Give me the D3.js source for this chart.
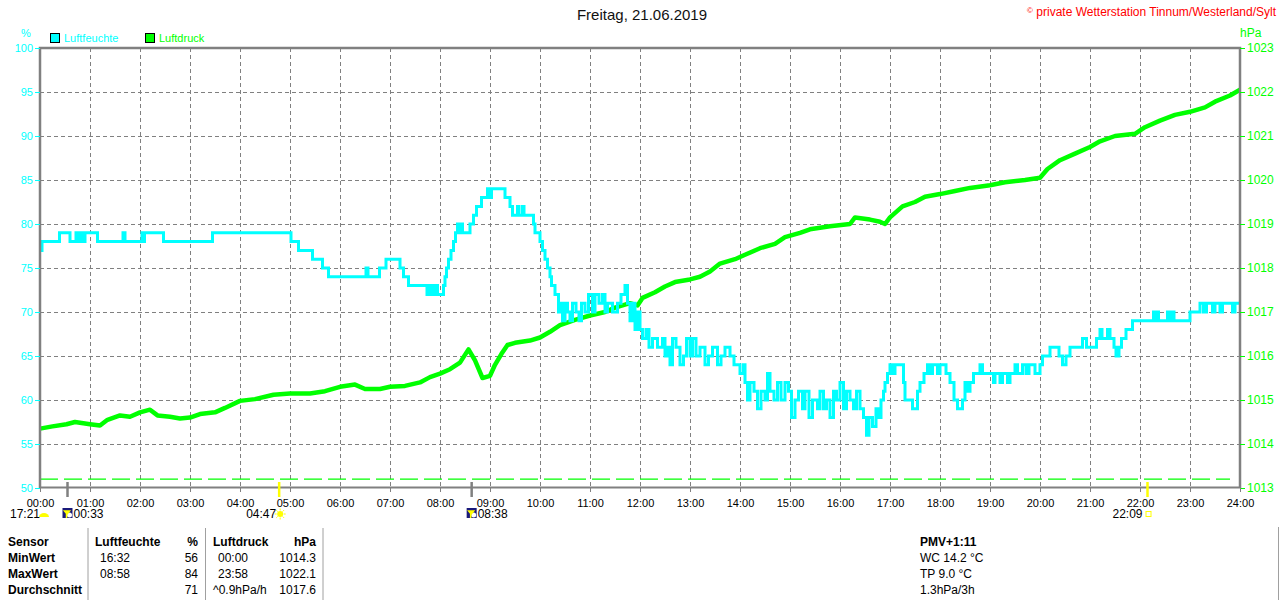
<!DOCTYPE html>
<html>
<head>
<meta charset="utf-8">
<script src="https://cdn.jsdelivr.net/npm/d3@7"></script>
<style>
  body { margin: 0; background: #fff; }
  svg { display: block; font-family: "Liberation Sans", Arial, sans-serif; }
</style>
</head>
<body>
<script>
// humidity (%), [hour, value], drawn as steps
var humidity = [
  [0,77],[0.04,78],[0.39,79],[0.6,78],[0.72,79],[0.75,78],[0.78,79],[0.8,78],[0.83,79],[0.86,78],[0.9,79],
  [1.15,78],[1.66,79],[1.7,78],[2.04,79],[2.07,78],[2.09,79],[2.47,78],[3.45,79],[5.02,78],[5.17,77],
  [5.45,76],[5.65,75],[5.77,74],[6.52,75],[6.56,74],[6.79,75],[6.92,76],[7.2,75],[7.27,74],[7.37,73],
  [7.74,72],[7.78,73],[7.8,72],[7.84,73],[7.88,72],[7.92,73],[7.95,72],[8.07,73],[8.1,74],[8.13,75],
  [8.17,76],[8.22,77],[8.27,78],[8.31,79],[8.35,80],[8.38,79],[8.42,80],[8.45,79],[8.6,80],[8.67,81],
  [8.73,82],[8.83,83],[8.95,84],[8.98,83],[9.03,84],[9.3,83],[9.4,82],[9.45,81],[9.55,82],[9.58,81],
  [9.65,82],[9.68,81],[9.87,80],[9.9,79],[10.0,78],[10.05,77],[10.1,76],[10.15,75],[10.2,74],[10.23,73],
  [10.3,72],[10.37,70],[10.4,71],[10.45,69],[10.5,71],[10.55,70],[10.6,69],[10.65,71],[10.72,70],
  [10.78,69],[10.83,71],[10.9,70],[10.97,72],[11.05,70],[11.1,72],[11.18,71],[11.25,72],[11.3,70],
  [11.35,71],[11.45,70],[11.55,71],[11.62,72],[11.7,73],[11.75,71],[11.8,69],[11.85,71],[11.9,68],
  [11.95,70],[12.0,68],[12.05,67],[12.12,68],[12.18,66],[12.25,67],[12.35,66],[12.45,67],[12.5,65],
  [12.55,66],[12.6,64],[12.65,67],[12.72,66],[12.8,64],[12.87,65],[12.93,67],[13.0,65],[13.05,67],
  [13.12,65],[13.2,66],[13.3,64],[13.37,65],[13.45,66],[13.55,64],[13.62,65],[13.7,66],[13.8,65],
  [13.88,64],[14.0,63],[14.07,64],[14.1,62],[14.15,60],[14.2,62],[14.28,61],[14.35,59],[14.42,61],
  [14.5,60],[14.55,63],[14.6,61],[14.68,60],[14.75,62],[14.82,60],[14.9,62],[14.97,61],[15.03,58],
  [15.1,60],[15.17,61],[15.25,59],[15.3,61],[15.38,58],[15.45,60],[15.55,59],[15.6,61],[15.67,59],
  [15.73,60],[15.8,58],[15.87,61],[15.93,60],[16.0,62],[16.07,59],[16.13,61],[16.2,60],[16.27,59],
  [16.33,61],[16.4,59],[16.47,58],[16.53,56],[16.58,58],[16.65,57],[16.72,59],[16.78,58],[16.82,60],
  [16.87,61],[16.9,62],[16.95,63],[17.0,64],[17.05,63],[17.1,64],[17.27,62],[17.3,60],[17.45,59],
  [17.55,61],[17.6,62],[17.68,63],[17.75,64],[17.8,63],[17.85,64],[17.95,63],[18.0,64],[18.12,63],
  [18.2,62],[18.28,60],[18.35,59],[18.45,60],[18.5,62],[18.55,61],[18.6,62],[18.67,63],[18.8,64],
  [18.85,63],[19.07,62],[19.1,63],[19.2,62],[19.25,63],[19.35,62],[19.4,63],[19.5,64],[19.55,63],
  [19.65,64],[19.72,63],[19.78,64],[19.9,63],[20.0,64],[20.05,65],[20.2,66],[20.38,65],[20.45,64],
  [20.52,65],[20.6,66],[20.85,67],[20.93,66],[21.13,67],[21.2,68],[21.24,67],[21.35,68],[21.4,67],
  [21.48,66],[21.52,65],[21.58,66],[21.63,67],[21.72,68],[21.85,69],[22.27,70],[22.3,69],[22.33,70],
  [22.37,69],[22.55,70],[22.6,69],[22.65,70],[22.68,69],[23.0,70],[23.2,71],[23.27,70],[23.33,71],
  [23.45,70],[23.5,71],[23.6,70],[23.65,71],[23.85,70],[23.9,71],[24,71]
];

// air pressure (hPa), [hour, value]
var pressure = [
  [0,1014.35],[0.25,1014.4],[0.53,1014.45],[0.7,1014.5],[1.0,1014.45],[1.2,1014.42],[1.35,1014.55],
  [1.6,1014.65],[1.8,1014.62],[2.0,1014.72],[2.2,1014.78],[2.35,1014.65],[2.6,1014.62],[2.8,1014.58],
  [3.0,1014.6],[3.2,1014.68],[3.5,1014.72],[3.7,1014.82],[4.0,1014.98],[4.3,1015.02],[4.67,1015.12],
  [5.0,1015.15],[5.4,1015.15],[5.7,1015.2],[6.0,1015.3],[6.3,1015.35],[6.5,1015.25],[6.8,1015.25],
  [7.0,1015.3],[7.3,1015.32],[7.6,1015.4],[7.8,1015.52],[8.0,1015.6],[8.2,1015.7],[8.4,1015.85],
  [8.57,1016.15],[8.7,1015.9],[8.85,1015.5],[9.0,1015.55],[9.1,1015.8],[9.23,1016.05],[9.35,1016.25],
  [9.5,1016.3],[9.8,1016.35],[10.0,1016.42],[10.2,1016.55],[10.4,1016.7],[10.7,1016.82],[11.0,1016.92],
  [11.3,1017.0],[11.5,1017.1],[11.8,1017.2],[11.95,1017.15],[12.05,1017.32],[12.3,1017.45],
  [12.5,1017.58],[12.7,1017.68],[13.0,1017.74],[13.2,1017.8],[13.4,1017.92],[13.6,1018.1],[13.9,1018.2],
  [14.1,1018.3],[14.4,1018.45],[14.7,1018.55],[14.9,1018.7],[15.2,1018.8],[15.4,1018.88],[15.8,1018.95],
  [16.2,1019.0],[16.3,1019.15],[16.6,1019.1],[16.8,1019.05],[16.9,1019.0],[17.0,1019.15],[17.25,1019.4],
  [17.5,1019.5],[17.7,1019.62],[18.0,1019.68],[18.3,1019.75],[18.6,1019.82],[19.0,1019.88],
  [19.3,1019.95],[19.7,1020.0],[20.0,1020.05],[20.15,1020.25],[20.4,1020.45],[20.7,1020.6],
  [21.0,1020.75],[21.2,1020.88],[21.5,1021.0],[21.9,1021.05],[22.1,1021.2],[22.4,1021.35],
  [22.7,1021.48],[23.0,1021.55],[23.3,1021.65],[23.5,1021.78],[23.8,1021.92],[24,1022.05]
];

var humTicks = [50, 55, 60, 65, 70, 75, 80, 85, 90, 95, 100];
var presTicks = [1013, 1014, 1015, 1016, 1017, 1018, 1019, 1020, 1021, 1022, 1023];
var hourTicks = d3.range(0, 25);

// sun / moon events below the time axis
var events = [
  { label: "17:21", hour: null, kind: "moonset" },
  { label: "00:33", hour: 0 + 33/60, kind: "moon" },
  { label: "04:47", hour: 4 + 47/60, kind: "sunrise" },
  { label: "08:38", hour: 8 + 38/60, kind: "moon" },
  { label: "22:09", hour: 22 + 9/60, kind: "sunset" }
];

var tableRows = [
  ["Sensor", "Luftfeuchte", "%", "Luftdruck", "hPa"],
  ["MinWert", "16:32", "56", "00:00", "1014.3"],
  ["MaxWert", "08:58", "84", "23:58", "1022.1"],
  ["Durchschnitt", "", "71", "^0.9hPa/h", "1017.6"]
];
var extraLines = ["PMV+1:11", "WC 14.2 °C", "TP 9.0 °C", "1.3hPa/3h"];

var CYAN = "#00ffff", GREEN = "#00ff00", GRID = "#808080";

var svg = d3.select("body").append("svg").attr("width", 1280).attr("height", 600);

var x = d3.scaleLinear().domain([0, 24]).range([40, 1240]);
var yH = d3.scaleLinear().domain([50, 100]).range([488, 48]);
var yP = d3.scaleLinear().domain([1013, 1023]).range([488, 48]);

// grid
svg.append("g").selectAll("line").data(hourTicks.slice(1, -1)).enter().append("line")
  .attr("x1", d => x(d) + 0.5).attr("x2", d => x(d) + 0.5)
  .attr("y1", 48).attr("y2", 488)
  .attr("stroke", GRID).attr("stroke-dasharray", "4,3");
svg.append("g").selectAll("line").data(humTicks.slice(1, -1)).enter().append("line")
  .attr("x1", 40).attr("x2", 1240)
  .attr("y1", d => yH(d) + 0.5).attr("y2", d => yH(d) + 0.5)
  .attr("stroke", GRID).attr("stroke-dasharray", "4,3");

// green dashed reference line near the bottom
svg.append("line")
  .attr("x1", x(0)).attr("x2", x(23.8))
  .attr("y1", yP(1013.2)).attr("y2", yP(1013.2))
  .attr("stroke", GREEN).attr("stroke-width", 1.2).attr("stroke-dasharray", "18,6");

// data lines
svg.append("path").datum(pressure)
  .attr("fill", "none").attr("stroke", GREEN).attr("stroke-width", 4.5).attr("stroke-linejoin", "round")
  .attr("d", d3.line().x(d => x(d[0])).y(d => yP(d[1])));
svg.append("path").datum(humidity)
  .attr("fill", "none").attr("stroke", CYAN).attr("stroke-width", 3)
  .attr("d", d3.line().x(d => x(d[0])).y(d => yH(d[1])).curve(d3.curveStepAfter));

// frame
svg.append("path")
  .attr("d", "M40,488V48H1240V488")
  .attr("fill", "none").attr("stroke", GRID).attr("stroke-width", 2.5);
svg.append("line").attr("x1", 40).attr("x2", 1240).attr("y1", 487.5).attr("y2", 487.5)
  .attr("stroke", GRID).attr("stroke-width", 2);

// axes
var axL = svg.append("g").attr("transform", "translate(40,0)")
  .call(d3.axisLeft(yH).tickValues(humTicks).tickSize(5).tickPadding(2));
axL.selectAll("text").attr("fill", CYAN).style("font-size", "11px");
var axR = svg.append("g").attr("transform", "translate(1240,0)")
  .call(d3.axisRight(yP).tickValues(presTicks).tickSize(5).tickPadding(2).tickFormat(d3.format("d")));
axR.selectAll("text").attr("fill", GREEN).style("font-size", "12px");
var axB = svg.append("g").attr("transform", "translate(0,488)")
  .call(d3.axisBottom(x).tickValues(hourTicks).tickSize(4).tickPadding(7)
    .tickFormat(d => (d < 10 ? "0" : "") + d + ":00"));
axB.selectAll("text").attr("fill", "#000").style("font-size", "11px");
[axL, axR, axB].forEach(a => {
  a.select(".domain").remove();
  a.selectAll(".tick line").attr("stroke", GRID);
});
axL.selectAll(".tick line").attr("stroke", CYAN);
axR.selectAll(".tick line").attr("stroke", GREEN);

// unit labels
svg.append("text").attr("x", 26).attr("y", 37).attr("text-anchor", "middle")
  .attr("fill", CYAN).style("font-size", "11px").text("%");
svg.append("text").attr("x", 1240).attr("y", 37)
  .attr("fill", GREEN).style("font-size", "12px").text("hPa");

// title + copyright
svg.append("text").attr("x", 642).attr("y", 20).attr("text-anchor", "middle")
  .attr("fill", "#111").style("font-size", "15px").text("Freitag, 21.06.2019");
svg.append("text").attr("x", 1276).attr("y", 16).attr("text-anchor", "end")
  .attr("fill", "#ff0000").style("font-size", "12px")
  .html('<tspan font-size="8" dy="-3">©</tspan><tspan dy="3"> private Wetterstation Tinnum/Westerland/Sylt</tspan>');

// legend
var legend = [["Luftfeuchte", CYAN, 50], ["Luftdruck", GREEN, 145]];
legend.forEach(l => {
  svg.append("rect").attr("x", l[2] + 0.5).attr("y", 33.5).attr("width", 9).attr("height", 9)
    .attr("fill", l[1]).attr("stroke", "#000");
  svg.append("text").attr("x", l[2] + 14).attr("y", 42)
    .attr("fill", l[1]).style("font-size", "11px").text(l[0]);
});

// sun/moon events
events.forEach(e => {
  if (e.hour == null) {
    svg.append("text").attr("x", 10).attr("y", 518).style("font-size", "12px").text(e.label);
    svg.append("path").attr("d", "M39,517 a5,4 0 0 1 10,0 z").attr("fill", "#ffff00");
    return;
  }
  var px = x(e.hour);
  var col = (e.kind === "moon") ? GRID : "#ffff00";
  svg.append("line").attr("x1", px).attr("x2", px).attr("y1", 482).attr("y2", 497)
    .attr("stroke", col).attr("stroke-width", 2.5);
  if (e.kind === "moon") {
    svg.append("rect").attr("x", px - 5).attr("y", 508).attr("width", 10).attr("height", 10).attr("fill", "#1a1a7a");
    svg.append("circle").attr("cx", px + 2).attr("cy", 515).attr("r", 2.5).attr("fill", "#fff");
    svg.append("path").attr("d", `M${px - 3},511 h5 l-2.5,3 z M${px - 1},513 v5`)
      .attr("fill", "#ffff00").attr("stroke", "#ffff00").attr("stroke-width", 1.5);
    svg.append("text").attr("x", px + 6).attr("y", 518).style("font-size", "12px").text(e.label);
  } else if (e.kind === "sunrise") {
    svg.append("text").attr("x", px - 3).attr("y", 518).attr("text-anchor", "end")
      .style("font-size", "12px").text(e.label);
    svg.append("circle").attr("cx", px + 1).attr("cy", 514).attr("r", 3).attr("fill", "#ffff00");
    d3.range(8).forEach(k => {
      var a = k * Math.PI / 4;
      svg.append("line")
        .attr("x1", px + 1 + Math.cos(a) * 3.5).attr("y1", 514 + Math.sin(a) * 3.5)
        .attr("x2", px + 1 + Math.cos(a) * 5.5).attr("y2", 514 + Math.sin(a) * 5.5)
        .attr("stroke", "#ffff00");
    });
  } else {
    svg.append("text").attr("x", px - 5).attr("y", 518).attr("text-anchor", "end")
      .style("font-size", "12px").text(e.label);
    svg.append("rect").attr("x", px - 1.5).attr("y", 511.5).attr("width", 5).attr("height", 5)
      .attr("fill", "none").attr("stroke", "#ffff00");
  }
});

// stats table
var colX = [8, 95, 198, 213, 316];
var colAnchor = ["start", "start", "end", "start", "end"];
var indent = [0, 5, 0, 5, 0];
tableRows.forEach((row, r) => {
  row.forEach((cell, c) => {
    var bold = r === 0 || c === 0;
    var xx = colX[c] + ((r > 0 && (c === 1 || c === 3) && cell[0] !== "^") ? indent[c] : 0);
    svg.append("text").attr("x", xx).attr("y", 546 + r * 16)
      .attr("text-anchor", colAnchor[c])
      .style("font-size", "12px").style("font-weight", bold ? "bold" : "normal")
      .text(cell);
  });
});
[88, 205.5, 323].forEach(vx => {
  svg.append("line").attr("x1", vx).attr("x2", vx).attr("y1", 528).attr("y2", 600)
    .attr("stroke", "#a0a0a0");
});
svg.append("line").attr("x1", 1278.5).attr("x2", 1278.5).attr("y1", 527).attr("y2", 600)
  .attr("stroke", "#a0a0a0");
extraLines.forEach((t, i) => {
  svg.append("text").attr("x", 920).attr("y", 546 + i * 16)
    .style("font-size", "12px").style("font-weight", i === 0 ? "bold" : "normal").text(t);
});
</script>
</body>
</html>
